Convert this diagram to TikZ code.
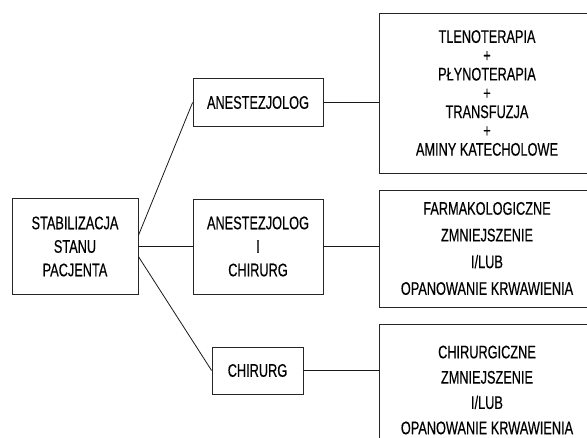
\documentclass[tikz,border=0pt]{standalone}
\usepackage{fontspec}
\setmainfont[FakeStretch=0.7, FakeBold=0.4]{Liberation Sans}
\usepackage{tikz}
\usetikzlibrary{positioning}

\tikzset{
	box/.style={draw=black!85, line width=0.8pt, align=center, inner sep=0pt},
	pitch/.style={font=\fontsize{18.2}{#1}\selectfont},
	link/.style={draw=black!90, line width=0.8pt}
}

\begin{document}
\begin{tikzpicture}[x = 1pt, y = -1pt]
				\path[use as bounding box, clip] (0, 0) rectangle (587, 438);
				
				% Nodes
				\node[box, pitch=23.5pt, minimum width=126pt, minimum height=96pt] (stan) at (75, 246.5) {STABILIZACJA\\STANU\\PACJENTA};
				\node[box, pitch=23.5pt, minimum width=130pt, minimum height=48pt] (anest) at (258, 102.5) {ANESTEZJOLOG};
				\node[box, pitch=23.5pt, minimum width=130pt, minimum height=95pt] (anchir) at (258, 246.5) {ANESTEZJOLOG\\I\\CHIRURG};
				\node[box, pitch=23.5pt, minimum width=91pt, minimum height=47pt] (chir) at (257.5, 370.5) {CHIRURG};
				
				\node[box, pitch=18.8pt, minimum width=216pt, minimum height=160pt] (leki) at (487, 93) {TLENOTERAPIA\\+\\PŁYNOTERAPIA\\+\\TRANSFUZJA\\+\\AMINY KATECHOLOWE};
				\node[box, pitch=26.7pt, minimum width=216pt, minimum height=117pt] (farm) at (487, 248.5) {FARMAKOLOGICZNE\\ZMNIEJSZENIE\\I/LUB\\OPANOWANIE KRWAWIENIA};
				\node[box, pitch=25.3pt, minimum width=216pt, minimum height=132pt] (oper) at (487, 390) {CHIRURGICZNE\\ZMNIEJSZENIE\\I/LUB\\OPANOWANIE KRWAWIENIA};
				
				% Edges
				\draw[link] ([yshift=11pt]stan.east) to (anest.west);
				\draw[link] (stan.east) to (anchir.west);
				\draw[link] ([yshift=-10pt]stan.east) to (chir.west);
				\draw[link] (anest.east) to (anest.east -| leki.west);
				\draw[link] (anchir.east) to (anchir.east -| farm.west);
				\draw[link] (chir.east) to (chir.east -| oper.west);
			\end{tikzpicture}
\end{document}
